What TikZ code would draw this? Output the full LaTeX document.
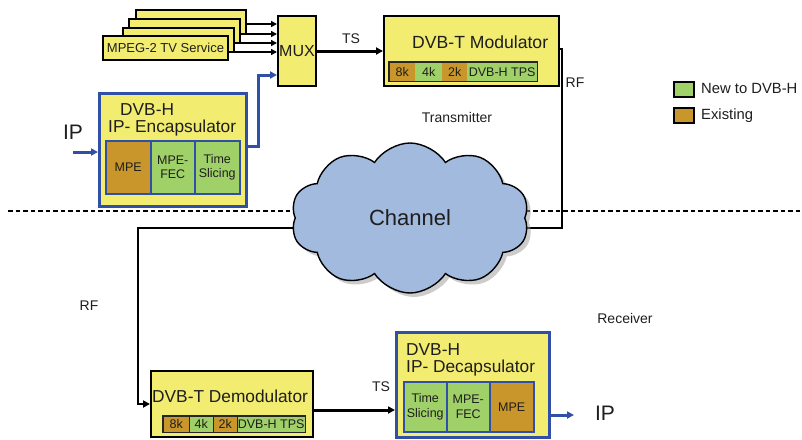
\documentclass[tikz,border=0pt]{standalone}
\usepackage{fontspec}
\setmainfont{Liberation Sans}
\usetikzlibrary{shapes.symbols,shadows,arrows.meta}
\definecolor{byel}{RGB}{242,236,112}
\definecolor{bblue}{RGB}{48,80,168}
\definecolor{cbrown}{RGB}{200,150,42}
\definecolor{cgreen}{RGB}{160,208,104}
\definecolor{cloudb}{RGB}{162,186,222}
\definecolor{txt}{RGB}{30,30,30}
\tikzset{
 ybox/.style={draw=black, line width=2pt, fill=byel, anchor=north west, inner sep=0pt, text=txt},
 bbox/.style={draw=bblue, line width=3pt, fill=byel, anchor=north west, inner sep=0pt},
 cellb/.style={fill=cbrown, anchor=north west, inner sep=0pt, align=center, text=txt, font=\fontsize{12.5}{13}\selectfont},
 cellg/.style={fill=cgreen, anchor=north west, inner sep=0pt, align=center, text=txt, font=\fontsize{12.5}{13}\selectfont},
 ecell/.style={draw=bblue, line width=1.5pt, anchor=north west, inner sep=0pt, align=center, text=txt, font=\fontsize{12.5}{14.5}\selectfont},
 lbl/.style={inner sep=0pt, text=txt, font=\fontsize{14}{16}\selectfont},
 title/.style={inner sep=0pt, text=txt, anchor=west, font=\fontsize{17.3}{19}\selectfont},
 tip/.style={-{Triangle[length=7pt,width=7pt]}},
 smalltip/.style={-{Triangle[length=6pt,width=6pt]}},
 legbox/.style={draw=black, line width=1.8pt, anchor=north west, minimum width=20pt, minimum height=15pt, inner sep=0pt},
}
\begin{document}
\begin{tikzpicture}[x=1pt,y=-1pt]
\useasboundingbox (0,0) rectangle (802,439);

% dashed divider
\coordinate (dl) at (8,211);
\coordinate (dr) at (802,211);
\draw[line width=1.6pt, dash pattern=on 4.5pt off 3pt] (dl) -- (dr);

% MPEG-2 services
\node[ybox, minimum width=110pt, minimum height=24pt] (m4) at (135,9) {};
\node[ybox, minimum width=111pt, minimum height=24pt] (m3) at (128,18) {};
\node[ybox, minimum width=111pt, minimum height=24pt] (m2) at (122,27) {};
\node[ybox, minimum width=125pt, minimum height=24pt, font=\fontsize{13}{15}\selectfont] (m1) at (102,35) {MPEG-2 TV Service};

% MUX
\node[ybox, minimum width=38pt, minimum height=70pt, font=\fontsize{16}{18}\selectfont] (mux) at (277,15) {MUX};

\coordinate (a4) at ([yshift=-2pt]m4.east);
\coordinate (a3) at ([yshift=-3pt]m3.east);
\coordinate (a2) at ([yshift=-3pt]m2.east);
\coordinate (a1) at ([yshift=-4pt]m1.east);
\foreach \a in {a1,a2,a3,a4} \draw[line width=1.5pt, smalltip] (\a) -- (\a -| mux.west);

% Modulator
\node[ybox, minimum width=175pt, minimum height=70pt] (mod) at (383,15) {};
\node[title, font=\fontsize{17.6}{19}\selectfont] (modt) at (412,42) {DVB-T Modulator};
\node[cellb, minimum width=26pt, minimum height=19pt] (s1) at (389,62) {8k};
\node[cellg, minimum width=27pt, minimum height=19pt] (s2) at (415,62) {4k};
\node[cellb, minimum width=25pt, minimum height=19pt] (s3) at (442,62) {2k};
\node[cellg, minimum width=70pt, minimum height=19pt] (s4) at (467,62) {DVB-H TPS};
\draw[line width=1.8pt, draw=black!85] (s1.north west) rectangle (s4.south east);

\draw[line width=3pt, tip] (mux.east) -- (mod.west);
\node[lbl] (ts1) at (351,39) {TS};

% Encapsulator
\node[bbox, minimum width=147pt, minimum height=113pt] (enc) at (98,92) {};
\node[title] (enct1) at (120,110) {DVB-H};
\node[title] (enct2) at (108,128) {IP- Encapsulator};
\node[ecell, fill=cbrown, minimum width=45pt, minimum height=53pt] (e1) at (105,140) {MPE};
\node[ecell, fill=cgreen, minimum width=44pt, minimum height=53pt] (e2) at (150,140) {MPE-\\FEC};
\node[ecell, fill=cgreen, minimum width=45pt, minimum height=53pt] (e3) at (194,140) {Time\\Slicing};

\coordinate (ipin) at (73,152);
\draw[draw=bblue, line width=3pt, tip] (ipin) -- (ipin -| enc.west);
\node[lbl, font=\fontsize{21}{23}\selectfont] (iplab1) at (73,132) {IP};

\coordinate (bl) at (258,75);
\draw[draw=bblue, line width=3pt, tip] ([yshift=3.5pt]enc.east) -| (bl) -- (bl -| mux.west);

% Demodulator
\node[ybox, minimum width=162pt, minimum height=66pt] (dem) at (150,370) {};
\node[title] (demt) at (152,396) {DVB-T Demodulator};
\node[cellb, minimum width=26pt, minimum height=16pt] (d1) at (163,416) {8k};
\node[cellg, minimum width=24pt, minimum height=16pt] (d2) at (189,416) {4k};
\node[cellb, minimum width=24pt, minimum height=16pt] (d3) at (213,416) {2k};
\node[cellg, minimum width=68pt, minimum height=16pt] (d4) at (237,416) {DVB-H TPS};
\draw[line width=1.6pt, draw=black!85] (d1.north west) rectangle (d4.south east);
\draw[line width=1.3pt, draw=black!85] (d1.north east) -- (d1.south east) (d2.north east) -- (d2.south east) (d3.north east) -- (d3.south east);

% RF path
\coordinate (rfA) at (562,228);
\coordinate (rfB) at (138,228);
\draw[line width=2pt, tip] ([yshift=2pt]mod.east) -| (rfA) -- (rfB) |- (dem.west);
\node[lbl] (rf1) at (575,83) {RF};
\node[lbl] (rf2) at (89,306) {RF};

% Decapsulator
\node[bbox, minimum width=153pt, minimum height=105pt] (dec) at (395,331) {};
\node[title] (dect1) at (406,350) {DVB-H};
\node[title] (dect2) at (406,368) {IP- Decapsulator};
\node[ecell, fill=cgreen, minimum width=43pt, minimum height=50pt] (c1) at (403,381) {Time\\Slicing};
\node[ecell, fill=cgreen, minimum width=43pt, minimum height=50pt] (c2) at (446,381) {MPE-\\FEC};
\node[ecell, fill=cbrown, minimum width=44pt, minimum height=50pt] (c3) at (489,381) {MPE};

\coordinate (ts2) at ([yshift=-6pt]dem.east);
\draw[line width=3pt, tip] (ts2) -- (ts2 -| dec.west);
\node[lbl] (ts2l) at (381,387) {TS};

\coordinate (ipout) at (574,415);
\draw[draw=bblue, line width=3pt, tip] (dec.east |- ipout) -- (ipout);
\node[lbl, font=\fontsize{21}{23}\selectfont] (iplab2) at (605,413) {IP};

% Cloud
\node[cloud, cloud puffs=10, cloud puff arc=115, cloud ignores aspect, minimum width=238pt, minimum height=150pt,
      draw=black, line width=1.4pt, fill=cloudb,
      drop shadow={shadow xshift=4pt, shadow yshift=-4pt, fill=black!40},
      text=txt, font=\fontsize{22}{24}\selectfont] (chan) at (410,218) {Channel};

% labels
\node[lbl] (tx) at (457,117) {Transmitter};
\node[lbl] (rx) at (625,318) {Receiver};

% legend
\node[legbox, fill=cgreen] (lg1) at (673,81) {};
\node[legbox, fill=cbrown] (lg2) at (673,107) {};
\node[lbl, anchor=west, font=\fontsize{14.8}{16}\selectfont] (lgt1) at (701,88.5) {New to DVB-H};
\node[lbl, anchor=west, font=\fontsize{14.8}{16}\selectfont] (lgt2) at (701,116) {Existing};
\end{tikzpicture}
\end{document}
